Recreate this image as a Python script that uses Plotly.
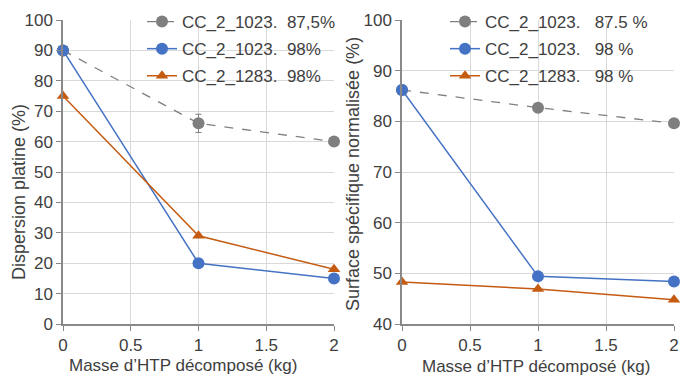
import plotly.graph_objects as go

x_vals = [0, 1, 2]
left_gray = [90, 66, 60]
left_gray_err = [0, 3, 0]
left_blue = [90, 20, 15]
left_orange = [75, 29, 18]
right_gray = [86.2, 82.7, 79.6]
right_blue = [86.2, 49.4, 48.4]
right_orange = [48.3, 46.9, 44.8]
left_names = ["CC_2_1023.  87,5%", "CC_2_1023.  98%", "CC_2_1283.  98%"]
right_names = ["CC_2_1023.   87.5 %", "CC_2_1023.   98 %", "CC_2_1283.   98 %"]
x_title = "Masse d’HTP décomposé (kg)"
y_title_left = "Dispersion platine (%)"
y_title_right = "Surface spécifique normalisée (%)"

GRAY = "#7f7f7f"
BLUE = "#4472c4"
ORANGE = "#c55a11"
FONT = "Liberation Sans, Arial, sans-serif"
TXT = "#404040"

fig = go.Figure()

def add(x, y, name, color, sym, dash, xa, ya, legend, group, err=None):
    fig.add_trace(go.Scatter(
        x=x, y=y, name=name, mode="lines+markers",
        line=dict(color=color, width=1.5 if dash == "solid" else 1.3, dash=dash),
        marker=dict(color=color, size=12 if sym == "circle" else 11, symbol=sym),
        error_y=dict(type="data", array=err, color=color, thickness=1, width=3) if err else None,
        xaxis=xa, yaxis=ya, legend=legend, legendgroup=group, cliponaxis=False))

add(x_vals, left_gray, left_names[0], GRAY, "circle", "dash", "x", "y", "legend", "a", left_gray_err)
add(x_vals, left_blue, left_names[1], BLUE, "circle", "solid", "x", "y", "legend", "b")
add(x_vals, left_orange, left_names[2], ORANGE, "triangle-up", "solid", "x", "y", "legend", "c")
add(x_vals, right_gray, right_names[0], GRAY, "circle", "dash", "x2", "y2", "legend2", "d")
add(x_vals, right_blue, right_names[1], BLUE, "circle", "solid", "x2", "y2", "legend2", "e")
add(x_vals, right_orange, right_names[2], ORANGE, "triangle-up", "solid", "x2", "y2", "legend2", "f")

W, H = 685, 383
ydom = [1 - 324 / H, 1 - 20 / H]
axcommon = dict(showgrid=True, gridcolor="#d9d9d9", gridwidth=1, zeroline=False,
                showline=True, linecolor="#898989", linewidth=1.5, automargin=False,
                ticks="outside", ticklen=5, tickcolor="#898989",
                tickfont=dict(size=17, color=TXT, family=FONT))

legfont = dict(size=17, color=TXT, family=FONT)

def ann(text, xp, yp, angle=0, size=17):
    return dict(text=text, xref="paper", yref="paper", x=xp / W, y=1 - yp / H,
                xanchor="center", yanchor="middle", showarrow=False, textangle=angle,
                font=dict(size=size, color=TXT, family=FONT))

fig.update_layout(
    width=W, height=H, margin=dict(l=0, r=0, t=0, b=0, autoexpand=False),
    paper_bgcolor="white", plot_bgcolor="white",
    font=dict(family=FONT, color=TXT),
    xaxis=dict(domain=[63 / W, 334 / W], range=[0, 2], dtick=0.5, anchor="y", **axcommon),
    yaxis=dict(domain=ydom, range=[0, 100], dtick=10, anchor="x", **axcommon),
    xaxis2=dict(domain=[402 / W, 674 / W], range=[0, 2], dtick=0.5, anchor="y2", **axcommon),
    yaxis2=dict(domain=ydom, range=[40, 100], dtick=10, anchor="x2", **axcommon),
    legend=dict(x=142 / W, y=1 - 4 / H, xanchor="left", yanchor="top",
                bgcolor="rgba(0,0,0,0)", font=legfont,
                itemwidth=30, tracegroupgap=2),
    legend2=dict(x=445 / W, y=1 - 4 / H, xanchor="left", yanchor="top",
                 bgcolor="rgba(0,0,0,0)", font=legfont,
                 itemwidth=30, tracegroupgap=2),
    annotations=[
        ann(x_title, 182.5, 365, 0, 17),
        ann(x_title, 536, 366, 0, 17),
        ann(y_title_left, 19, 192, -90, 18),
        ann(y_title_right, 353, 174, -90, 18),
    ],
)

fig.write_html("out.html", config={"displayModeBar": False},
               post_script="document.body.style.margin='0';document.body.style.overflow='hidden';")
